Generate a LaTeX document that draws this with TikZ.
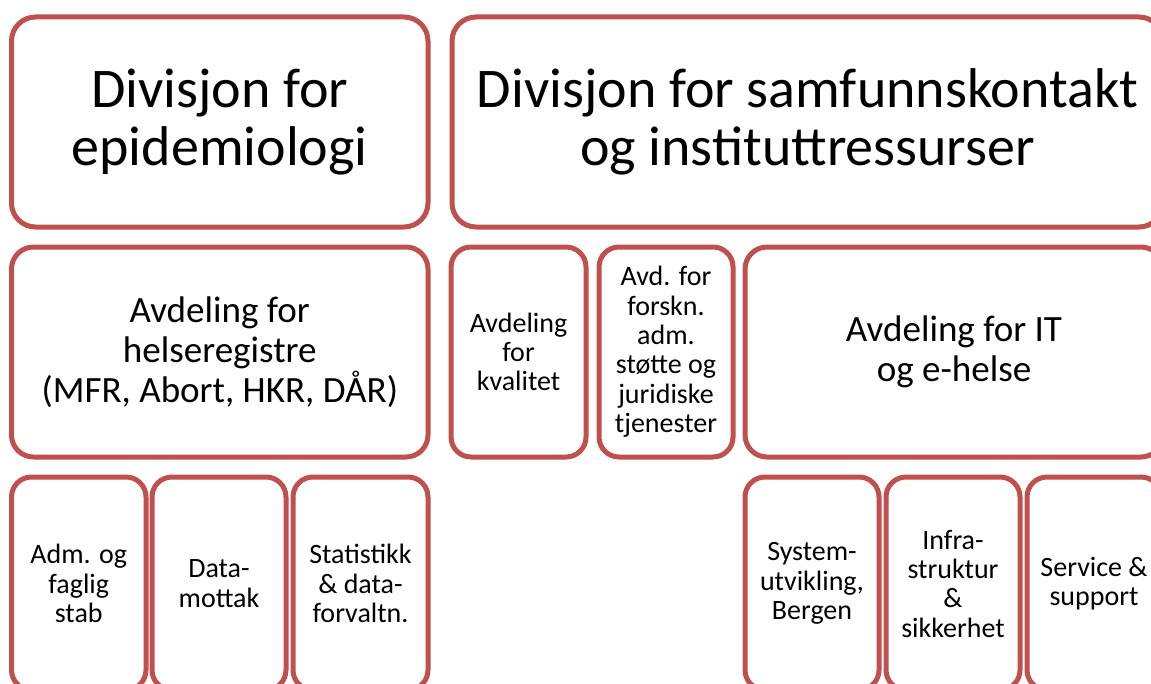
\documentclass[tikz,border=0pt]{standalone}
\usepackage{fontspec}
\setmainfont{Carlito}
\definecolor{boxred}{HTML}{C0504D}
\newcommand\orgbox[7]{%
  \node[#6, minimum width={0.75pt*(#4-#2)}, minimum height={0.75pt*(#5-#3)}]
    (#1) at ({(#2+#4)/2},{(#3+#5)/2}) {#7};}
\tikzset{
  boxbase/.style={draw=boxred, line width=3.75pt, fill=white, inner sep=0pt, align=center, text=black},
  bigbox/.style={boxbase, rounded corners=18pt, font=\fontsize{42}{43}\selectfont},
  midbox/.style={boxbase, rounded corners=16.5pt, font=\fontsize{27.8}{30}\selectfont},
  smallbox/.style={boxbase, rounded corners=15pt, font=\fontsize{21}{22}\selectfont},
}
\begin{document}
\begin{tikzpicture}[x=0.75pt, y=-0.75pt]
\useasboundingbox (0,0) rectangle (1151,684);
\fill[white] (0,0) rectangle (1151,684);
\clip (0,0) rectangle (1151,684);
% row 1
\orgbox{epi}{11.5}{17}{428}{227}{bigbox}{Divisjon for\\epidemiologi}
\orgbox{sam}{452}{17}{1163}{227}{bigbox}{Divisjon for samfunnskontakt\\og instituttressurser}
% row 2
\orgbox{helse}{11.5}{247}{428}{457}{midbox}{Avdeling for\\helseregistre\\(MFR, Abort, HKR, DÅR)}
\orgbox{kval}{451}{247}{586}{457}{smallbox}{Avdeling\\for\\kvalitet}
\orgbox{forskn}{599}{247}{733}{457}{smallbox}{Avd. for\\forskn.\\adm.\\støtte og\\juridiske\\tjenester}
\orgbox{it}{745}{247}{1163}{457}{midbox}{Avdeling for IT\\og e-helse}
% row 3
\orgbox{adm}{11.5}{477}{146}{690}{smallbox}{Adm. og\\faglig\\stab}
\orgbox{mottak}{152}{477}{286}{690}{smallbox}{Data-\\mottak}
\orgbox{stat}{293}{477}{428}{690}{smallbox}{Statistikk\\\& data-\\forvaltn.}
\orgbox{sysut}{745}{477}{879}{690}{smallbox}{System-\\utvikling,\\Bergen}
\orgbox{infra}{886}{477}{1020}{690}{smallbox}{Infra-\\struktur\\\&\\sikkerhet}
\orgbox{serv}{1027}{477}{1161}{690}{smallbox}{Service \&\\support}
\end{tikzpicture}
\end{document}
